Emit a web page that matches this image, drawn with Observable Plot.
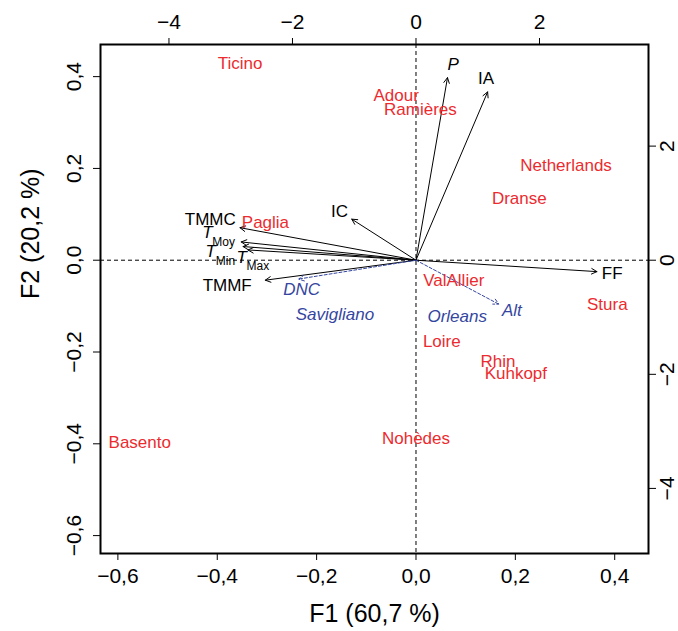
<!DOCTYPE html>
<html><head><meta charset="utf-8">
<script src="https://cdn.jsdelivr.net/npm/d3@7"></script>
<script src="https://cdn.jsdelivr.net/npm/@observablehq/plot@0.6"></script>
<style>html,body{margin:0;padding:0;background:#fff}</style>
</head><body><div id="chart"></div>
<script>
// Sites (active individuals), coordinates on F1/F2
const siteNames = ["Ticino","Adour","Ramières","Netherlands","Dranse","Paglia","ValAllier","Stura","Loire","Rhin","Kuhkopf","Basento","Nohèdes"];
const siteF1 = [-0.354, -0.040, 0.009, 0.302, 0.208, -0.303, 0.076, 0.385, 0.052, 0.165, 0.201, -0.556, 0.000];
const siteF2 = [0.428, 0.358, 0.329, 0.207, 0.134, 0.083, -0.045, -0.097, -0.177, -0.221, -0.246, -0.397, -0.388];

// Supplementary individuals
const suppNames = ["Savigliano","Orleans"];
const suppF1 = [-0.163, 0.083];
const suppF2 = [-0.119, -0.123];

// Active variables: loadings (top/right scale) and label positions (F1/F2)
const varNames = ["P","IA","FF","IC","TMMC","T","T","T","TMMF"];
const varSubs  = ["","","","","","Moy","Min","Max",""];
const varLoad1 = [0.51, 1.16, 2.93, -1.04, -2.85, -2.83, -2.80, -2.72, -2.44];
const varLoad2 = [3.20, 2.95, -0.20, 0.72, 0.57, 0.32, 0.24, 0.18, -0.35];
const varLabelF1 = [0.075, 0.141, 0.395, -0.154, -0.414, -0.420, -0.413, -0.351, -0.380];
const varLabelF2 = [0.427, 0.396, -0.029, 0.106, 0.088, 0.060, 0.018, 0.006, -0.056];

// Supplementary variables
const suppVarNames = ["DNC","Alt"];
const suppVarLoad1 = [-1.90, 1.34];
const suppVarLoad2 = [-0.33, -0.77];
const suppVarLabelF1 = [-0.230, 0.193];
const suppVarLabelF2 = [-0.063, -0.109];

// Axes
const xTicks = [-0.6, -0.4, -0.2, 0, 0.2, 0.4];
const yTicks = [-0.6, -0.4, -0.2, 0, 0.2, 0.4];
const topTicks = [-4, -2, 0, 2];
const rightTicks = [-4, -2, 0, 2];
const loadScale = 0.1243; // one loading unit in F1/F2 units
const xTitle = "F1 (60,7 %)";
const yTitle = "F2 (20,2 %)";

const RED = "#ec2b2f";
const BLUE = "#3546a0";
const fmt1 = d => d3.format(".1f")(d).replace(".", ",");
const fmtInt = d => d3.format("d")(Math.round(d / loadScale));

const sites = siteNames.map((n, i) => ({name: n, x: siteF1[i], y: siteF2[i]}));
const supp = suppNames.map((n, i) => ({name: n, x: suppF1[i], y: suppF2[i]}));
const vars = varNames.map((n, i) => ({name: n, sub: varSubs[i], l1: varLoad1[i], l2: varLoad2[i], lx: varLabelF1[i], ly: varLabelF2[i]}));
const svars = suppVarNames.map((n, i) => ({name: n, l1: suppVarLoad1[i], l2: suppVarLoad2[i], lx: suppVarLabelF1[i], ly: suppVarLabelF2[i]}));
const italicVars = new Set(["P", "T"]);

const chart = Plot.plot({
  width: 678, height: 631,
  marginLeft: 100, marginRight: 30, marginTop: 44, marginBottom: 78,
  x: {domain: [-0.635, 0.468]},
  y: {domain: [-0.639, 0.470]},
  style: {fontFamily: "'Liberation Sans', Arial, sans-serif", fontSize: "17px", color: "black", background: "white"},
  marks: [
    Plot.ruleX([0], {stroke: "black", strokeWidth: 1, strokeDasharray: "4,3"}),
    Plot.ruleY([0], {stroke: "black", strokeWidth: 1, strokeDasharray: "4,3"}),
    Plot.arrow(vars, {x1: () => 0, y1: () => 0, x2: d => d.l1 * loadScale, y2: d => d.l2 * loadScale, stroke: "black", strokeWidth: 1, headLength: 9, headAngle: 55}),
    Plot.arrow(svars, {x1: () => 0, y1: () => 0, x2: d => d.l1 * loadScale, y2: d => d.l2 * loadScale, stroke: BLUE, strokeWidth: 1, strokeDasharray: "3,2", headLength: 9, headAngle: 55}),
    Plot.text(sites, {x: "x", y: "y", text: "name", fill: RED, fontSize: 17}),
    Plot.text(supp, {x: "x", y: "y", text: "name", fill: BLUE, fontSize: 17, fontStyle: "italic"}),
    Plot.text(vars.filter(d => !italicVars.has(d.name)), {x: "lx", y: "ly", text: "name", fill: "black", fontSize: 17}),
    Plot.text(vars.filter(d => italicVars.has(d.name)), {x: "lx", y: "ly", text: "name", fill: "black", fontSize: 17, fontStyle: "italic"}),
    Plot.text(vars.filter(d => d.sub), {x: "lx", y: "ly", text: "sub", fill: "black", fontSize: 12, textAnchor: "start", dx: 5, dy: 9}),
    Plot.text(svars, {x: "lx", y: "ly", text: "name", fill: BLUE, fontSize: 17, fontStyle: "italic"}),
    Plot.frame({stroke: "black", strokeWidth: 2}),
    Plot.axisX({anchor: "bottom", ticks: xTicks, tickSize: 7, tickPadding: 8, tickFormat: fmt1, fontSize: 21, label: null}),
    Plot.axisX({anchor: "top", ticks: topTicks.map(t => t * loadScale), tickSize: 7, tickPadding: 9, tickFormat: fmtInt, fontSize: 21, label: null}),
    Plot.axisY({anchor: "left", ticks: yTicks, tickSize: 7, tickFormat: () => "", label: null}),
    Plot.axisY({anchor: "right", ticks: rightTicks.map(t => t * loadScale), tickSize: 7, tickFormat: () => "", label: null}),
    Plot.text(yTicks, {y: d => d, text: d => fmt1(d), frameAnchor: "left", dx: -26, rotate: -90, fontSize: 21, lineAnchor: "middle", textAnchor: "middle"}),
    Plot.text(rightTicks.map(t => t * loadScale), {y: d => d, text: d => fmtInt(d), frameAnchor: "right", dx: 19, rotate: -90, fontSize: 21, lineAnchor: "middle", textAnchor: "middle"}),
    Plot.text([xTitle], {text: d => d, frameAnchor: "bottom", dy: 60, fontSize: 25, lineAnchor: "middle"}),
    Plot.text([yTitle], {text: d => d, frameAnchor: "left", dx: -70, rotate: -90, fontSize: 25, lineAnchor: "middle"})
  ]
});
document.getElementById("chart").appendChild(chart);
</script>
</body></html>
